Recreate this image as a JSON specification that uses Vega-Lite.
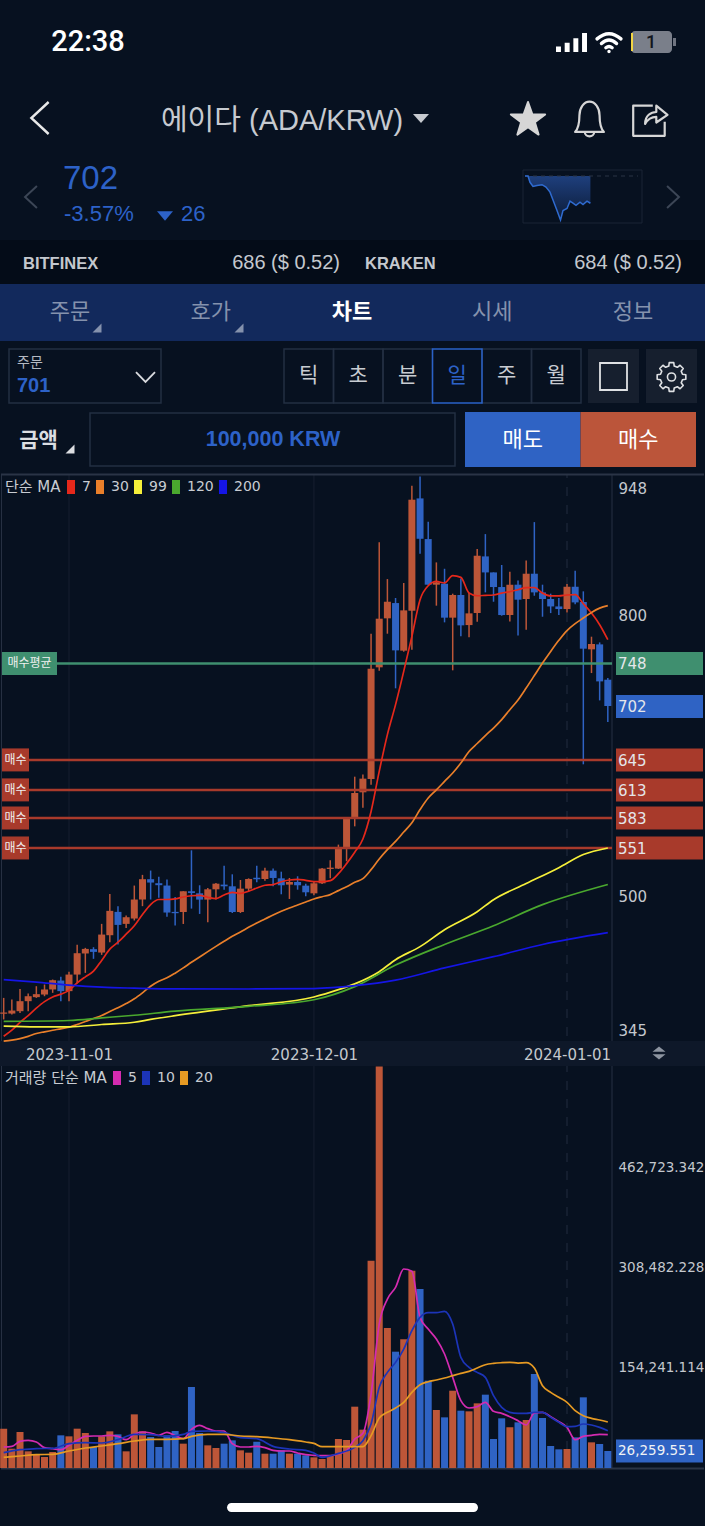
{
"$schema":"https://vega.github.io/schema/vega-lite/v6.json",
"description":"ADA/KRW daily candlestick chart in a mobile exchange app",
"width":705,"height":1526,
"autosize":{"type":"fit","contains":"padding"},
"padding":0,
"background":"#071120",
"config":{"view":{"stroke":null},"style":{"guide-label":{"font":"DejaVu Sans"}}},
"datasets":{
"candles":[
{"date":"2023-10-24","open":374,"high":391,"low":368,"close":375.4,"volume":60650,"side":"up"},
{"date":"2023-10-25","open":374.3,"high":389.3,"low":373.3,"close":377.5,"volume":29800,"side":"up"},
{"date":"2023-10-26","open":376.8,"high":400.6,"low":375,"close":387.5,"volume":55500,"side":"up"},
{"date":"2023-10-27","open":387.5,"high":395.7,"low":376.8,"close":392.8,"volume":25700,"side":"up"},
{"date":"2023-10-28","open":391.8,"high":403.5,"low":391,"close":395,"volume":20560,"side":"up"},
{"date":"2023-10-29","open":394.6,"high":405.3,"low":392.8,"close":400,"volume":16960,"side":"up"},
{"date":"2023-10-30","open":400,"high":410.6,"low":396.4,"close":409.9,"volume":24670,"side":"up"},
{"date":"2023-10-31","open":409.5,"high":413.5,"low":387.5,"close":398.2,"volume":50370,"side":"down"},
{"date":"2023-11-01","open":398.2,"high":418.8,"low":387.5,"close":415.9,"volume":48830,"side":"up"},
{"date":"2023-11-02","open":415.9,"high":447.6,"low":406.3,"close":438.7,"volume":60650,"side":"up"},
{"date":"2023-11-03","open":438.4,"high":444.4,"low":417.7,"close":443.3,"volume":53970,"side":"up"},
{"date":"2023-11-04","open":443,"high":445.1,"low":432.7,"close":440.1,"volume":32380,"side":"down"},
{"date":"2023-11-05","open":439.4,"high":470,"low":436.9,"close":458.6,"volume":48830,"side":"up"},
{"date":"2023-11-06","open":457.9,"high":502,"low":450.4,"close":483.9,"volume":56540,"side":"up"},
{"date":"2023-11-07","open":482.8,"high":488.9,"low":448,"close":468.9,"volume":51910,"side":"down"},
{"date":"2023-11-08","open":470,"high":478.9,"low":465.7,"close":477.1,"volume":25700,"side":"up"},
{"date":"2023-11-09","open":475.7,"high":510.9,"low":473.6,"close":496,"volume":82750,"side":"up"},
{"date":"2023-11-10","open":496,"high":522.3,"low":488.9,"close":517.7,"volume":56540,"side":"up"},
{"date":"2023-11-11","open":517.7,"high":526.9,"low":496,"close":514.1,"volume":47800,"side":"down"},
{"date":"2023-11-12","open":513.4,"high":520.2,"low":497.8,"close":511.3,"volume":32380,"side":"down"},
{"date":"2023-11-13","open":510.9,"high":517.3,"low":477.5,"close":482.1,"volume":50370,"side":"down"},
{"date":"2023-11-14","open":482.8,"high":498.8,"low":468.2,"close":481.4,"volume":57050,"side":"down"},
{"date":"2023-11-15","open":482.7,"high":504.8,"low":469.9,"close":504.8,"volume":37520,"side":"up"},
{"date":"2023-11-16","open":504.8,"high":548.5,"low":486.3,"close":503,"volume":124900,"side":"down"},
{"date":"2023-11-17","open":502.6,"high":511.2,"low":480.6,"close":495.9,"volume":53970,"side":"down"},
{"date":"2023-11-18","open":495.9,"high":508.3,"low":471.7,"close":506.9,"volume":34950,"side":"up"},
{"date":"2023-11-19","open":506.9,"high":513.6,"low":495.9,"close":512.9,"volume":30840,"side":"up"},
{"date":"2023-11-20","open":511.9,"high":532.1,"low":506.5,"close":510.1,"volume":37520,"side":"down"},
{"date":"2023-11-21","open":510.1,"high":522.9,"low":481.6,"close":482.7,"volume":42660,"side":"down"},
{"date":"2023-11-22","open":482.7,"high":516.8,"low":481.6,"close":507.6,"volume":27240,"side":"up"},
{"date":"2023-11-23","open":507.6,"high":518.6,"low":504.4,"close":517.9,"volume":23640,"side":"up"},
{"date":"2023-11-24","open":519.3,"high":532.1,"low":514.4,"close":517.6,"volume":40600,"side":"down"},
{"date":"2023-11-25","open":517.9,"high":530,"low":516.1,"close":526.8,"volume":22100,"side":"up"},
{"date":"2023-11-26","open":526.8,"high":529,"low":510.1,"close":519,"volume":22100,"side":"down"},
{"date":"2023-11-27","open":518.6,"high":525.7,"low":501.6,"close":511.2,"volume":27240,"side":"down"},
{"date":"2023-11-28","open":511.9,"high":519,"low":496.6,"close":514.7,"volume":22100,"side":"up"},
{"date":"2023-11-29","open":514.7,"high":520.8,"low":506.5,"close":511.2,"volume":22100,"side":"down"},
{"date":"2023-11-30","open":510.8,"high":512.9,"low":499.4,"close":503.7,"volume":19530,"side":"down"},
{"date":"2023-12-01","open":502.6,"high":515.4,"low":500.5,"close":513.3,"volume":16450,"side":"up"},
{"date":"2023-12-02","open":513.3,"high":529.7,"low":512.6,"close":529,"volume":13880,"side":"up"},
{"date":"2023-12-03","open":528.6,"high":537.8,"low":518.6,"close":530,"volume":19020,"side":"up"},
{"date":"2023-12-04","open":529,"high":554.6,"low":528.6,"close":551,"volume":44720,"side":"up"},
{"date":"2023-12-05","open":551,"high":582.3,"low":536.8,"close":582,"volume":43180,"side":"up"},
{"date":"2023-12-06","open":582,"high":627.1,"low":574.1,"close":609.7,"volume":94580,"side":"up"},
{"date":"2023-12-07","open":610.4,"high":629.3,"low":594,"close":625,"volume":59110,"side":"up"},
{"date":"2023-12-08","open":624.6,"high":779.7,"low":618.6,"close":742.3,"volume":319700,"side":"up"},
{"date":"2023-12-09","open":743.8,"high":877.2,"low":740.2,"close":795.7,"volume":619400,"side":"up"},
{"date":"2023-12-10","open":796.1,"high":838,"low":779.7,"close":813.8,"volume":215900,"side":"up"},
{"date":"2023-12-11","open":812.4,"high":817.8,"low":721.4,"close":761.9,"volume":179400,"side":"down"},
{"date":"2023-12-12","open":761.6,"high":833.8,"low":760.5,"close":804.6,"volume":198400,"side":"up"},
{"date":"2023-12-13","open":804.2,"high":937.6,"low":762.6,"close":922.7,"volume":304300,"side":"up"},
{"date":"2023-12-14","open":924.1,"high":947.5,"low":865.1,"close":881,"volume":276000,"side":"down"},
{"date":"2023-12-15","open":880.7,"high":899.2,"low":832,"close":832,"volume":134700,"side":"down"},
{"date":"2023-12-16","open":832,"high":855.8,"low":809.6,"close":834.5,"volume":89440,"side":"up"},
{"date":"2023-12-17","open":833,"high":849,"low":791.8,"close":796.8,"volume":78130,"side":"down"},
{"date":"2023-12-18","open":796.8,"high":822.4,"low":740.6,"close":821,"volume":119200,"side":"up"},
{"date":"2023-12-19","open":821,"high":838.7,"low":776.9,"close":788.6,"volume":88410,"side":"down"},
{"date":"2023-12-20","open":788.9,"high":823.1,"low":775.8,"close":801.4,"volume":87380,"side":"up"},
{"date":"2023-12-21","open":801.8,"high":870,"low":792.5,"close":862.9,"volume":99720,"side":"up"},
{"date":"2023-12-22","open":862.2,"high":886,"low":823.8,"close":845.1,"volume":113100,"side":"down"},
{"date":"2023-12-23","open":845.1,"high":845.1,"low":813.8,"close":829.5,"volume":44720,"side":"down"},
{"date":"2023-12-24","open":829.5,"high":853,"low":798.9,"close":799.6,"volume":76590,"side":"down"},
{"date":"2023-12-25","open":799.6,"high":845.8,"low":792.8,"close":832,"volume":62710,"side":"up"},
{"date":"2023-12-26","open":832,"high":836.6,"low":777.9,"close":816,"volume":70420,"side":"down"},
{"date":"2023-12-27","open":816.7,"high":857.9,"low":784,"close":843.7,"volume":74020,"side":"up"},
{"date":"2023-12-28","open":843.7,"high":898.8,"low":820.2,"close":823.8,"volume":145000,"side":"down"},
{"date":"2023-12-29","open":823.8,"high":832,"low":797.8,"close":816.7,"volume":77100,"side":"down"},
{"date":"2023-12-30","open":816.7,"high":822.4,"low":801.7,"close":808.8,"volume":33920,"side":"down"},
{"date":"2023-12-31","open":808.8,"high":817.7,"low":799.6,"close":806,"volume":28780,"side":"down"},
{"date":"2024-01-01","open":806,"high":832.7,"low":802.4,"close":829.8,"volume":29300,"side":"up"},
{"date":"2024-01-02","open":829.8,"high":846.9,"low":811,"close":813.1,"volume":47290,"side":"down"},
{"date":"2024-01-03","open":813.5,"high":824.9,"low":640.3,"close":763.7,"volume":109000,"side":"down"},
{"date":"2024-01-04","open":763,"high":776.5,"low":737.7,"close":768.7,"volume":39580,"side":"up"},
{"date":"2024-01-05","open":768.3,"high":770.4,"low":708.5,"close":728.8,"volume":37010,"side":"down"},
{"date":"2024-01-06","open":730.6,"high":732.4,"low":685.4,"close":702.5,"volume":26259.551,"side":"down"}
],
"priceMa":[
{"date":"2023-10-24","ma":"7","value":350},{"date":"2023-10-25","ma":"7","value":356.5},{"date":"2023-10-26","ma":"7","value":365},{"date":"2023-10-27","ma":"7","value":372},{"date":"2023-10-28","ma":"7","value":380},{"date":"2023-10-29","ma":"7","value":387},{"date":"2023-10-30","ma":"7","value":392},{"date":"2023-10-31","ma":"7","value":395},{"date":"2023-11-01","ma":"7","value":399},{"date":"2023-11-02","ma":"7","value":407},{"date":"2023-11-03","ma":"7","value":413.5},{"date":"2023-11-04","ma":"7","value":419.5},{"date":"2023-11-05","ma":"7","value":431},{"date":"2023-11-06","ma":"7","value":443},{"date":"2023-11-07","ma":"7","value":450.4},{"date":"2023-11-08","ma":"7","value":459},{"date":"2023-11-09","ma":"7","value":468},{"date":"2023-11-10","ma":"7","value":480},{"date":"2023-11-11","ma":"7","value":490.6},{"date":"2023-11-12","ma":"7","value":496},{"date":"2023-11-13","ma":"7","value":496},{"date":"2023-11-14","ma":"7","value":496.7},{"date":"2023-11-15","ma":"7","value":498.7},{"date":"2023-11-16","ma":"7","value":500},{"date":"2023-11-17","ma":"7","value":500.5},{"date":"2023-11-18","ma":"7","value":498.4},{"date":"2023-11-19","ma":"7","value":497},{"date":"2023-11-20","ma":"7","value":500.8},{"date":"2023-11-21","ma":"7","value":503.7},{"date":"2023-11-22","ma":"7","value":502.6},{"date":"2023-11-23","ma":"7","value":504.8},{"date":"2023-11-24","ma":"7","value":508.3},{"date":"2023-11-25","ma":"7","value":511.2},{"date":"2023-11-26","ma":"7","value":511.9},{"date":"2023-11-27","ma":"7","value":515},{"date":"2023-11-28","ma":"7","value":516.8},{"date":"2023-11-29","ma":"7","value":517.6},{"date":"2023-11-30","ma":"7","value":516.5},{"date":"2023-12-01","ma":"7","value":515},{"date":"2023-12-02","ma":"7","value":515},{"date":"2023-12-03","ma":"7","value":516.1},{"date":"2023-12-04","ma":"7","value":523.6},{"date":"2023-12-05","ma":"7","value":534.3},{"date":"2023-12-06","ma":"7","value":546.4},{"date":"2023-12-07","ma":"7","value":560.6},{"date":"2023-12-08","ma":"7","value":590},{"date":"2023-12-09","ma":"7","value":632.8},{"date":"2023-12-10","ma":"7","value":672},{"date":"2023-12-11","ma":"7","value":704},{"date":"2023-12-12","ma":"7","value":739.5},{"date":"2023-12-13","ma":"7","value":776.9},{"date":"2023-12-14","ma":"7","value":816},{"date":"2023-12-15","ma":"7","value":830.9},{"date":"2023-12-16","ma":"7","value":835.5},{"date":"2023-12-17","ma":"7","value":833.8},{"date":"2023-12-18","ma":"7","value":841.6},{"date":"2023-12-19","ma":"7","value":839.8},{"date":"2023-12-20","ma":"7","value":823.1},{"date":"2023-12-21","ma":"7","value":820.2},{"date":"2023-12-22","ma":"7","value":820.6},{"date":"2023-12-23","ma":"7","value":821},{"date":"2023-12-24","ma":"7","value":823},{"date":"2023-12-25","ma":"7","value":824.5},{"date":"2023-12-26","ma":"7","value":826.6},{"date":"2023-12-27","ma":"7","value":828.8},{"date":"2023-12-28","ma":"7","value":829},{"date":"2023-12-29","ma":"7","value":823},{"date":"2023-12-30","ma":"7","value":820},{"date":"2023-12-31","ma":"7","value":820},{"date":"2024-01-01","ma":"7","value":821},{"date":"2024-01-02","ma":"7","value":821.3},{"date":"2024-01-03","ma":"7","value":811.7},{"date":"2024-01-04","ma":"7","value":801.7},{"date":"2024-01-05","ma":"7","value":789.3},{"date":"2024-01-06","ma":"7","value":773.3},
{"date":"2023-10-24","ma":"30","value":344.8},{"date":"2023-10-25","ma":"30","value":346},{"date":"2023-10-26","ma":"30","value":347.6},{"date":"2023-10-27","ma":"30","value":350},{"date":"2023-10-28","ma":"30","value":353},{"date":"2023-10-29","ma":"30","value":354.8},{"date":"2023-10-30","ma":"30","value":356.5},{"date":"2023-10-31","ma":"30","value":358},{"date":"2023-11-01","ma":"30","value":359.7},{"date":"2023-11-02","ma":"30","value":362.6},{"date":"2023-11-03","ma":"30","value":365.8},{"date":"2023-11-04","ma":"30","value":369},{"date":"2023-11-05","ma":"30","value":372.2},{"date":"2023-11-06","ma":"30","value":376.5},{"date":"2023-11-07","ma":"30","value":380.4},{"date":"2023-11-08","ma":"30","value":385},{"date":"2023-11-09","ma":"30","value":390},{"date":"2023-11-10","ma":"30","value":396.4},{"date":"2023-11-11","ma":"30","value":403.5},{"date":"2023-11-12","ma":"30","value":408.8},{"date":"2023-11-13","ma":"30","value":412.4},{"date":"2023-11-14","ma":"30","value":417.4},{"date":"2023-11-15","ma":"30","value":423},{"date":"2023-11-16","ma":"30","value":429},{"date":"2023-11-17","ma":"30","value":434.7},{"date":"2023-11-18","ma":"30","value":440.4},{"date":"2023-11-19","ma":"30","value":446},{"date":"2023-11-20","ma":"30","value":451.4},{"date":"2023-11-21","ma":"30","value":456.7},{"date":"2023-11-22","ma":"30","value":461.4},{"date":"2023-11-23","ma":"30","value":466.3},{"date":"2023-11-24","ma":"30","value":471},{"date":"2023-11-25","ma":"30","value":475.2},{"date":"2023-11-26","ma":"30","value":479.5},{"date":"2023-11-27","ma":"30","value":483.4},{"date":"2023-11-28","ma":"30","value":487},{"date":"2023-11-29","ma":"30","value":490.2},{"date":"2023-11-30","ma":"30","value":493.4},{"date":"2023-12-01","ma":"30","value":496.6},{"date":"2023-12-02","ma":"30","value":499},{"date":"2023-12-03","ma":"30","value":501.2},{"date":"2023-12-04","ma":"30","value":505.5},{"date":"2023-12-05","ma":"30","value":509.7},{"date":"2023-12-06","ma":"30","value":514.4},{"date":"2023-12-07","ma":"30","value":518.3},{"date":"2023-12-08","ma":"30","value":527.9},{"date":"2023-12-09","ma":"30","value":539.3},{"date":"2023-12-10","ma":"30","value":549.2},{"date":"2023-12-11","ma":"30","value":558},{"date":"2023-12-12","ma":"30","value":568},{"date":"2023-12-13","ma":"30","value":578},{"date":"2023-12-14","ma":"30","value":592},{"date":"2023-12-15","ma":"30","value":604.3},{"date":"2023-12-16","ma":"30","value":613},{"date":"2023-12-17","ma":"30","value":622},{"date":"2023-12-18","ma":"30","value":631},{"date":"2023-12-19","ma":"30","value":641.7},{"date":"2023-12-20","ma":"30","value":654},{"date":"2023-12-21","ma":"30","value":662.5},{"date":"2023-12-22","ma":"30","value":671},{"date":"2023-12-23","ma":"30","value":679},{"date":"2023-12-24","ma":"30","value":688},{"date":"2023-12-25","ma":"30","value":698.6},{"date":"2023-12-26","ma":"30","value":709},{"date":"2023-12-27","ma":"30","value":721.7},{"date":"2023-12-28","ma":"30","value":735},{"date":"2023-12-29","ma":"30","value":748.4},{"date":"2023-12-30","ma":"30","value":760.8},{"date":"2023-12-31","ma":"30","value":772.6},{"date":"2024-01-01","ma":"30","value":783},{"date":"2024-01-02","ma":"30","value":790.4},{"date":"2024-01-03","ma":"30","value":796.4},{"date":"2024-01-04","ma":"30","value":802.4},{"date":"2024-01-05","ma":"30","value":807},{"date":"2024-01-06","ma":"30","value":809.6},
{"date":"2023-10-24","ma":"99","value":360.8},{"date":"2023-10-28","ma":"99","value":360},{"date":"2023-11-01","ma":"99","value":360},{"date":"2023-11-05","ma":"99","value":362.6},{"date":"2023-11-09","ma":"99","value":365},{"date":"2023-11-11","ma":"99","value":368},{"date":"2023-11-14","ma":"99","value":372},{"date":"2023-11-23","ma":"99","value":382.7},{"date":"2023-12-01","ma":"99","value":392},{"date":"2023-12-04","ma":"99","value":399.8},{"date":"2023-12-06","ma":"99","value":406},{"date":"2023-12-09","ma":"99","value":419},{"date":"2023-12-11","ma":"99","value":431.8},{"date":"2023-12-14","ma":"99","value":445.7},{"date":"2023-12-17","ma":"99","value":463.8},{"date":"2023-12-21","ma":"99","value":483},{"date":"2023-12-23","ma":"99","value":495.8},{"date":"2023-12-27","ma":"99","value":513},{"date":"2023-12-31","ma":"99","value":530},{"date":"2024-01-03","ma":"99","value":544},{"date":"2024-01-06","ma":"99","value":551},
{"date":"2023-10-24","ma":"120","value":366},{"date":"2023-11-01","ma":"120","value":366.9},{"date":"2023-11-05","ma":"120","value":369.7},{"date":"2023-11-09","ma":"120","value":372.5},{"date":"2023-11-14","ma":"120","value":376.8},{"date":"2023-11-23","ma":"120","value":382},{"date":"2023-12-01","ma":"120","value":389},{"date":"2023-12-06","ma":"120","value":403},{"date":"2023-12-11","ma":"120","value":426},{"date":"2023-12-17","ma":"120","value":448},{"date":"2023-12-23","ma":"120","value":468},{"date":"2023-12-29","ma":"120","value":490.5},{"date":"2024-01-06","ma":"120","value":512},
{"date":"2023-10-24","ma":"200","value":410.6},{"date":"2023-10-28","ma":"200","value":407.8},{"date":"2023-11-01","ma":"200","value":404.6},{"date":"2023-11-05","ma":"200","value":402.4},{"date":"2023-11-09","ma":"200","value":401.4},{"date":"2023-11-14","ma":"200","value":400.6},{"date":"2023-11-23","ma":"200","value":400.5},{"date":"2023-12-01","ma":"200","value":401},{"date":"2023-12-06","ma":"200","value":404},{"date":"2023-12-11","ma":"200","value":410},{"date":"2023-12-17","ma":"200","value":423},{"date":"2023-12-23","ma":"200","value":435},{"date":"2023-12-29","ma":"200","value":448},{"date":"2024-01-06","ma":"200","value":460.6}
],
"volumeMa":[
{"date":"2023-10-24","ma":"5","value":32380},{"date":"2023-10-25","ma":"5","value":33410},{"date":"2023-10-26","ma":"5","value":41120},{"date":"2023-10-27","ma":"5","value":42660},{"date":"2023-10-28","ma":"5","value":40090},{"date":"2023-10-29","ma":"5","value":31350},{"date":"2023-10-30","ma":"5","value":29810},{"date":"2023-10-31","ma":"5","value":28270},{"date":"2023-11-01","ma":"5","value":34950},{"date":"2023-11-02","ma":"5","value":42660},{"date":"2023-11-03","ma":"5","value":48830},{"date":"2023-11-04","ma":"5","value":49340},{"date":"2023-11-05","ma":"5","value":49340},{"date":"2023-11-06","ma":"5","value":50370},{"date":"2023-11-07","ma":"5","value":48830},{"date":"2023-11-08","ma":"5","value":43690},{"date":"2023-11-09","ma":"5","value":51910},{"date":"2023-11-10","ma":"5","value":55510},{"date":"2023-11-11","ma":"5","value":53970},{"date":"2023-11-12","ma":"5","value":50370},{"date":"2023-11-13","ma":"5","value":55000},{"date":"2023-11-14","ma":"5","value":49860},{"date":"2023-11-15","ma":"5","value":45230},{"date":"2023-11-16","ma":"5","value":59620},{"date":"2023-11-17","ma":"5","value":65790},{"date":"2023-11-18","ma":"5","value":60650},{"date":"2023-11-19","ma":"5","value":57050},{"date":"2023-11-20","ma":"5","value":57050},{"date":"2023-11-21","ma":"5","value":37520},{"date":"2023-11-22","ma":"5","value":32380},{"date":"2023-11-23","ma":"5","value":32380},{"date":"2023-11-24","ma":"5","value":33410},{"date":"2023-11-25","ma":"5","value":31350},{"date":"2023-11-26","ma":"5","value":27240},{"date":"2023-11-27","ma":"5","value":26210},{"date":"2023-11-28","ma":"5","value":26210},{"date":"2023-11-29","ma":"5","value":23130},{"date":"2023-11-30","ma":"5","value":20560},{"date":"2023-12-01","ma":"5","value":19530},{"date":"2023-12-02","ma":"5","value":19020},{"date":"2023-12-03","ma":"5","value":19020},{"date":"2023-12-04","ma":"5","value":21590},{"date":"2023-12-05","ma":"5","value":26730},{"date":"2023-12-06","ma":"5","value":44720},{"date":"2023-12-07","ma":"5","value":53460},{"date":"2023-12-08","ma":"5","value":114100},{"date":"2023-12-09","ma":"5","value":222000},{"date":"2023-12-10","ma":"5","value":260600},{"date":"2023-12-11","ma":"5","value":278600},{"date":"2023-12-12","ma":"5","value":306900},{"date":"2023-12-13","ma":"5","value":303300},{"date":"2023-12-14","ma":"5","value":232300},{"date":"2023-12-15","ma":"5","value":214300},{"date":"2023-12-16","ma":"5","value":198900},{"date":"2023-12-17","ma":"5","value":175800},{"date":"2023-12-18","ma":"5","value":139800},{"date":"2023-12-19","ma":"5","value":103800},{"date":"2023-12-20","ma":"5","value":92520},{"date":"2023-12-21","ma":"5","value":94580},{"date":"2023-12-22","ma":"5","value":101300},{"date":"2023-12-23","ma":"5","value":87380},{"date":"2023-12-24","ma":"5","value":84300},{"date":"2023-12-25","ma":"5","value":79160},{"date":"2023-12-26","ma":"5","value":72990},{"date":"2023-12-27","ma":"5","value":66310},{"date":"2023-12-28","ma":"5","value":84810},{"date":"2023-12-29","ma":"5","value":85840},{"date":"2023-12-30","ma":"5","value":79160},{"date":"2023-12-31","ma":"5","value":71450},{"date":"2024-01-01","ma":"5","value":62710},{"date":"2024-01-02","ma":"5","value":43690},{"date":"2024-01-03","ma":"5","value":48830},{"date":"2024-01-04","ma":"5","value":50370},{"date":"2024-01-05","ma":"5","value":51910},{"date":"2024-01-06","ma":"5","value":51400},
{"date":"2023-10-24","ma":"10","value":23640},{"date":"2023-10-26","ma":"10","value":28270},{"date":"2023-10-28","ma":"10","value":29810},{"date":"2023-10-30","ma":"10","value":30330},{"date":"2023-11-01","ma":"10","value":37520},{"date":"2023-11-03","ma":"10","value":39060},{"date":"2023-11-05","ma":"10","value":38550},{"date":"2023-11-07","ma":"10","value":43690},{"date":"2023-11-09","ma":"10","value":51910},{"date":"2023-11-11","ma":"10","value":51400},{"date":"2023-11-13","ma":"10","value":48830},{"date":"2023-11-15","ma":"10","value":51910},{"date":"2023-11-16","ma":"10","value":56540},{"date":"2023-11-18","ma":"10","value":57050},{"date":"2023-11-20","ma":"10","value":54480},{"date":"2023-11-22","ma":"10","value":46770},{"date":"2023-11-24","ma":"10","value":45230},{"date":"2023-11-26","ma":"10","value":33410},{"date":"2023-11-28","ma":"10","value":29300},{"date":"2023-11-30","ma":"10","value":27240},{"date":"2023-12-01","ma":"10","value":23130},{"date":"2023-12-02","ma":"10","value":16450},{"date":"2023-12-04","ma":"10","value":22620},{"date":"2023-12-06","ma":"10","value":31870},{"date":"2023-12-07","ma":"10","value":42150},{"date":"2023-12-08","ma":"10","value":67850},{"date":"2023-12-09","ma":"10","value":124400},{"date":"2023-12-10","ma":"10","value":147500},{"date":"2023-12-11","ma":"10","value":162900},{"date":"2023-12-12","ma":"10","value":183500},{"date":"2023-12-13","ma":"10","value":211800},{"date":"2023-12-14","ma":"10","value":232300},{"date":"2023-12-15","ma":"10","value":239500},{"date":"2023-12-16","ma":"10","value":239500},{"date":"2023-12-17","ma":"10","value":241600},{"date":"2023-12-18","ma":"10","value":222000},{"date":"2023-12-19","ma":"10","value":170600},{"date":"2023-12-20","ma":"10","value":155200},{"date":"2023-12-21","ma":"10","value":147500},{"date":"2023-12-22","ma":"10","value":139800},{"date":"2023-12-23","ma":"10","value":111500},{"date":"2023-12-24","ma":"10","value":93550},{"date":"2023-12-25","ma":"10","value":85840},{"date":"2023-12-26","ma":"10","value":84300},{"date":"2023-12-27","ma":"10","value":84300},{"date":"2023-12-28","ma":"10","value":85840},{"date":"2023-12-29","ma":"10","value":85840},{"date":"2023-12-30","ma":"10","value":78130},{"date":"2023-12-31","ma":"10","value":70420},{"date":"2024-01-01","ma":"10","value":63740},{"date":"2024-01-02","ma":"10","value":64250},{"date":"2024-01-03","ma":"10","value":67850},{"date":"2024-01-04","ma":"10","value":66310},{"date":"2024-01-05","ma":"10","value":62710},{"date":"2024-01-06","ma":"10","value":57570},
{"date":"2023-10-24","ma":"20","value":16450},{"date":"2023-10-26","ma":"20","value":18500},{"date":"2023-10-28","ma":"20","value":20560},{"date":"2023-10-30","ma":"20","value":21070},{"date":"2023-11-01","ma":"20","value":26210},{"date":"2023-11-03","ma":"20","value":30840},{"date":"2023-11-05","ma":"20","value":33920},{"date":"2023-11-07","ma":"20","value":37520},{"date":"2023-11-09","ma":"20","value":41630},{"date":"2023-11-11","ma":"20","value":44200},{"date":"2023-11-13","ma":"20","value":44200},{"date":"2023-11-15","ma":"20","value":45230},{"date":"2023-11-16","ma":"20","value":48830},{"date":"2023-11-18","ma":"20","value":51910},{"date":"2023-11-20","ma":"20","value":51910},{"date":"2023-11-22","ma":"20","value":49340},{"date":"2023-11-24","ma":"20","value":48320},{"date":"2023-11-26","ma":"20","value":46260},{"date":"2023-11-28","ma":"20","value":43690},{"date":"2023-11-30","ma":"20","value":40090},{"date":"2023-12-01","ma":"20","value":38040},{"date":"2023-12-02","ma":"20","value":32900},{"date":"2023-12-04","ma":"20","value":32900},{"date":"2023-12-06","ma":"20","value":32900},{"date":"2023-12-07","ma":"20","value":32900},{"date":"2023-12-08","ma":"20","value":49860},{"date":"2023-12-09","ma":"20","value":77100},{"date":"2023-12-10","ma":"20","value":85840},{"date":"2023-12-11","ma":"20","value":92520},{"date":"2023-12-12","ma":"20","value":101300},{"date":"2023-12-13","ma":"20","value":116700},{"date":"2023-12-14","ma":"20","value":128500},{"date":"2023-12-15","ma":"20","value":133100},{"date":"2023-12-16","ma":"20","value":135700},{"date":"2023-12-17","ma":"20","value":138800},{"date":"2023-12-18","ma":"20","value":142400},{"date":"2023-12-19","ma":"20","value":146000},{"date":"2023-12-20","ma":"20","value":149100},{"date":"2023-12-21","ma":"20","value":154200},{"date":"2023-12-22","ma":"20","value":159300},{"date":"2023-12-23","ma":"20","value":161400},{"date":"2023-12-24","ma":"20","value":162400},{"date":"2023-12-25","ma":"20","value":162900},{"date":"2023-12-26","ma":"20","value":161900},{"date":"2023-12-27","ma":"20","value":162400},{"date":"2023-12-28","ma":"20","value":154200},{"date":"2023-12-29","ma":"20","value":127000},{"date":"2023-12-30","ma":"20","value":116700},{"date":"2023-12-31","ma":"20","value":109000},{"date":"2024-01-01","ma":"20","value":101300},{"date":"2024-01-02","ma":"20","value":88410},{"date":"2024-01-03","ma":"20","value":80700},{"date":"2024-01-04","ma":"20","value":76590},{"date":"2024-01-05","ma":"20","value":74020},{"date":"2024-01-06","ma":"20","value":70930}
],
"spark":[
{"minute":0,"price":728},{"minute":3,"price":728},{"minute":5,"price":722},{"minute":8,"price":718},{"minute":12,"price":719},{"minute":17,"price":719.7},{"minute":21,"price":717.4},{"minute":25,"price":712.6},{"minute":28,"price":705},{"minute":32,"price":695},{"minute":35.5,"price":686},{"minute":38,"price":695},{"minute":42,"price":697},{"minute":45,"price":704},{"minute":48,"price":702},{"minute":51,"price":700},{"minute":55,"price":703},{"minute":58,"price":700.8},{"minute":62,"price":704},{"minute":65.4,"price":702}
],
"levels":[
{"level":748,"label":"748","kind":"avg"},{"level":702,"label":"702","kind":"now"},{"level":645,"label":"645","kind":"buy"},{"level":613,"label":"613","kind":"buy"},{"level":583,"label":"583","kind":"buy"},{"level":551,"label":"551","kind":"buy"}
]
},
"resolve":{"scale":{"x":"independent","y":"independent","color":"independent"},"axis":{"x":"independent","y":"independent"},"legend":{"color":"independent"}},
"layer":[
{"data":{"values":[{"part":"exchanges"}]},"mark":{"type":"rect","color":"#040c18"},"encoding":{"x":{"field":"part","type":"nominal","axis":null,"scale":{"type":"band","domain":["exchanges"],"range":[0,705],"padding":0}},"y":{"field":"part","type":"nominal","axis":null,"scale":{"type":"band","domain":["exchanges"],"range":[240,284],"padding":0}}}},
{"data":{"values":[{"part":"tabs"}]},"mark":{"type":"rect","color":"#12295c"},"encoding":{"x":{"field":"part","type":"nominal","axis":null,"scale":{"type":"band","domain":["tabs"],"range":[0,705],"padding":0}},"y":{"field":"part","type":"nominal","axis":null,"scale":{"type":"band","domain":["tabs"],"range":[284,341],"padding":0}}}},

{"data":{"values":[{"t":"22:38"}]},"mark":{"type":"text","font":"Roboto","fontWeight":500,"fontSize":29,"color":"#ffffff"},"encoding":{"text":{"field":"t"},"x":{"field":"t","type":"nominal","axis":null,"scale":{"type":"point","domain":["22:38"],"range":[88,88]}},"y":{"datum":"status","type":"nominal","axis":null,"scale":{"type":"point","domain":["status"],"range":[42,42]}}}},
{"data":{"values":[{"icon":"signal"}]},"mark":{"type":"point","shape":"M-.5,.31H-.34V.13H-.5Z M-.22,.31H-.06V.01H-.22Z M.06,.31H.22V-.14H.06Z M.34,.31H.5V-.31H.34Z","size":3844,"filled":true,"opacity":1,"color":"#ffffff"},"encoding":{"x":{"field":"icon","type":"nominal","axis":null,"scale":{"type":"point","domain":["signal"],"range":[571.5,571.5]}},"y":{"datum":"status","type":"nominal","axis":null,"scale":{"type":"point","domain":["status"],"range":[42.5,42.5]}}}},
{"data":{"values":[{"icon":"wifi"}]},"mark":{"type":"point","shape":"M-.46,-.12 Q0,-.52 .46,-.12 M-.29,.06 Q0,-.22 .29,.06 M-.12,.22 Q0,.12 .12,.22 M0,.36 L0,.37","size":2704,"filled":false,"opacity":1,"stroke":"#ffffff","strokeWidth":3.4,"strokeCap":"round"},"encoding":{"x":{"field":"icon","type":"nominal","axis":null,"scale":{"type":"point","domain":["wifi"],"range":[609,609]}},"y":{"datum":"status","type":"nominal","axis":null,"scale":{"type":"point","domain":["status"],"range":[42,42]}}}},
{"data":{"values":[{"part":"battery"}]},"mark":{"type":"rect","color":"#7a7f8a","cornerRadius":4},"encoding":{"x":{"field":"part","type":"nominal","axis":null,"scale":{"type":"band","domain":["battery"],"range":[631,672],"padding":0}},"y":{"field":"part","type":"nominal","axis":null,"scale":{"type":"band","domain":["battery"],"range":[31,53],"padding":0}}}},
{"data":{"values":[{"part":"low"}]},"mark":{"type":"rect","color":"#f2d544"},"encoding":{"x":{"field":"part","type":"nominal","axis":null,"scale":{"type":"band","domain":["low"],"range":[631,633],"padding":0}},"y":{"field":"part","type":"nominal","axis":null,"scale":{"type":"band","domain":["low"],"range":[33,51],"padding":0}}}},
{"data":{"values":[{"part":"nub"}]},"mark":{"type":"rect","color":"#6f7480"},"encoding":{"x":{"field":"part","type":"nominal","axis":null,"scale":{"type":"band","domain":["nub"],"range":[673,676],"padding":0}},"y":{"field":"part","type":"nominal","axis":null,"scale":{"type":"band","domain":["nub"],"range":[38,46],"padding":0}}}},
{"data":{"values":[{"t":"1"}]},"mark":{"type":"text","font":"Roboto","fontWeight":500,"fontSize":18,"color":"#11151c"},"encoding":{"text":{"field":"t"},"x":{"field":"t","type":"nominal","axis":null,"scale":{"type":"point","domain":["1"],"range":[651,651]}},"y":{"datum":"status","type":"nominal","axis":null,"scale":{"type":"point","domain":["status"],"range":[42.5,42.5]}}}},

{"data":{"values":[{"icon":"back"}]},"mark":{"type":"point","shape":"M.27,-.5 L-.27,0 L.27,.5","size":4096,"filled":false,"opacity":1,"stroke":"#e8e8e8","strokeWidth":2.4},"encoding":{"x":{"field":"icon","type":"nominal","axis":null,"scale":{"type":"point","domain":["back"],"range":[40,40]}},"y":{"datum":"title","type":"nominal","axis":null,"scale":{"type":"point","domain":["title"],"range":[118,118]}}}},
{"data":{"values":[{"t":"에이다 (ADA/KRW)"}]},"mark":{"type":"text","font":"Liberation Sans, Noto Sans CJK KR","fontSize":29,"color":"#c6cad0"},"encoding":{"text":{"field":"t"},"x":{"field":"t","type":"nominal","axis":null,"scale":{"type":"point","domain":["에이다 (ADA/KRW)"],"range":[282,282]}},"y":{"datum":"title","type":"nominal","axis":null,"scale":{"type":"point","domain":["title"],"range":[121,121]}}}},
{"data":{"values":[{"icon":"caret"}]},"mark":{"type":"point","shape":"M-.5,-.28 L.5,-.28 L0,.28 Z","size":1024,"filled":true,"opacity":1,"color":"#c6cad0"},"encoding":{"x":{"field":"icon","type":"nominal","axis":null,"scale":{"type":"point","domain":["caret"],"range":[421,421]}},"y":{"datum":"title","type":"nominal","axis":null,"scale":{"type":"point","domain":["title"],"range":[118.5,118.5]}}}},
{"data":{"values":[{"icon":"star"}]},"mark":{"type":"point","shape":"M0,-.5 L.118,-.162 L.476,-.155 L.191,.062 L.294,.405 L0,.2 L-.294,.405 L-.191,.062 L-.476,-.155 L-.118,-.162 Z","size":5184,"filled":true,"opacity":1,"color":"#d6d6d6","stroke":"#d6d6d6","strokeWidth":2,"strokeJoin":"round"},"encoding":{"x":{"field":"icon","type":"nominal","axis":null,"scale":{"type":"point","domain":["star"],"range":[528,528]}},"y":{"datum":"title","type":"nominal","axis":null,"scale":{"type":"point","domain":["title"],"range":[120,120]}}}},
{"data":{"values":[{"icon":"bell"}]},"mark":{"type":"point","shape":"M-.4,.36 C-.3,.25 -.28,.12 -.28,-.1 C-.28,-.32 -.15,-.48 0,-.48 C.15,-.48 .28,-.32 .28,-.1 C.28,.12 .3,.25 .4,.36 Z M-.13,.36 C-.13,.52 .13,.52 .13,.36","size":5184,"filled":false,"opacity":1,"stroke":"#d6d6d6","strokeWidth":2.2,"strokeJoin":"round"},"encoding":{"x":{"field":"icon","type":"nominal","axis":null,"scale":{"type":"point","domain":["bell"],"range":[589.5,589.5]}},"y":{"datum":"title","type":"nominal","axis":null,"scale":{"type":"point","domain":["title"],"range":[119,119]}}}},
{"data":{"values":[{"icon":"share"}]},"mark":{"type":"point","shape":"M.08,-.38 L-.48,-.38 L-.48,.48 L.42,.48 L.42,.08 M-.14,.14 C-.14,-.1 .03,-.2 .18,-.2 L.18,-.38 L.5,-.12 L.18,.1 L.18,-.06 C.05,-.06 -.05,-.02 -.14,.14 Z","size":4900,"filled":false,"opacity":1,"stroke":"#d6d6d6","strokeWidth":2.2,"strokeJoin":"round"},"encoding":{"x":{"field":"icon","type":"nominal","axis":null,"scale":{"type":"point","domain":["share"],"range":[650,650]}},"y":{"datum":"title","type":"nominal","axis":null,"scale":{"type":"point","domain":["title"],"range":[119,119]}}}},

{"data":{"values":[{"t":"702"}]},"mark":{"type":"text","font":"Liberation Sans","fontSize":33,"align":"left","color":"#2d62c8"},"encoding":{"text":{"field":"t"},"x":{"field":"t","type":"nominal","axis":null,"scale":{"type":"point","domain":["702"],"range":[63,63]}},"y":{"datum":"quote","type":"nominal","axis":null,"scale":{"type":"point","domain":["quote"],"range":[179,179]}}}},
{"data":{"values":[{"t":"-3.57%"},{"t":"26"}]},"mark":{"type":"text","font":"Liberation Sans","fontSize":22,"align":"left","color":"#2d62c8"},"encoding":{"text":{"field":"t"},"x":{"field":"t","type":"nominal","axis":null,"scale":{"type":"point","domain":["-3.57%","26"],"range":[64,181],"padding":0}},"y":{"datum":"change","type":"nominal","axis":null,"scale":{"type":"point","domain":["change"],"range":[214,214]}}}},
{"data":{"values":[{"icon":"fall"}]},"mark":{"type":"point","shape":"M-.5,-.3 L.5,-.3 L0,.3 Z","size":1024,"filled":true,"opacity":1,"color":"#2d62c8"},"encoding":{"x":{"field":"icon","type":"nominal","axis":null,"scale":{"type":"point","domain":["fall"],"range":[165,165]}},"y":{"datum":"change","type":"nominal","axis":null,"scale":{"type":"point","domain":["change"],"range":[216,216]}}}},
{"data":{"values":[{"icon":"prev"},{"icon":"next"}]},"mark":{"type":"point","size":1936,"opacity":1,"filled":false,"stroke":"#3c4656","strokeWidth":2},"encoding":{"shape":{"field":"icon","type":"nominal","legend":null,"scale":{"domain":["prev","next"],"range":["M.27,-.5 L-.27,0 L.27,.5","M-.27,-.5 L.27,0 L-.27,.5"]}},"x":{"field":"icon","type":"nominal","axis":null,"scale":{"type":"point","domain":["prev","next"],"range":[31,673],"padding":0}},"y":{"datum":"quote","type":"nominal","axis":null,"scale":{"type":"point","domain":["quote"],"range":[197,197]}}}},
{"data":{"values":[{"part":"sparkbox"}]},"mark":{"type":"rect","filled":false,"stroke":"#1b2535","strokeWidth":1},"encoding":{"x":{"field":"part","type":"nominal","axis":null,"scale":{"type":"band","domain":["sparkbox"],"range":[523,642],"padding":0}},"y":{"field":"part","type":"nominal","axis":null,"scale":{"type":"band","domain":["sparkbox"],"range":[170,223],"padding":0}}}},
{"data":{"name":"spark"},"mark":{"type":"area","color":{"gradient":"linear","x1":0,"y1":0,"x2":0,"y2":1,"stops":[{"offset":0,"color":"#1e3f7d"},{"offset":1,"color":"#0c1b36"}]}},"encoding":{"x":{"field":"minute","type":"quantitative","axis":null,"scale":{"domain":[0,113],"range":[525,638]}},"y":{"field":"price","type":"quantitative","axis":null,"stack":null,"scale":{"domain":[686,728],"range":[220,176]}},"y2":{"datum":728}}},
{"data":{"values":[{"ref":728}]},"mark":{"type":"rule","stroke":"#2a3444","strokeWidth":1,"strokeDash":[4,4]},"encoding":{"y":{"field":"ref","type":"quantitative","axis":null,"scale":{"domain":[686,728],"range":[220,176]}},"x":{"datum":0,"axis":null,"scale":{"domain":[0,113],"range":[525,638]}},"x2":{"datum":113}}},
{"data":{"name":"spark"},"mark":{"type":"line","color":"#2f6bd0","strokeWidth":1.5},"encoding":{"x":{"field":"minute","type":"quantitative","axis":null,"scale":{"domain":[0,113],"range":[525,638]}},"y":{"field":"price","type":"quantitative","axis":null,"scale":{"domain":[686,728],"range":[220,176]}}}},

{"data":{"values":[{"t":"BITFINEX"},{"t":"KRAKEN"}]},"mark":{"type":"text","font":"Liberation Sans","fontWeight":"bold","fontSize":16.5,"align":"left","color":"#c4c8ce"},"encoding":{"text":{"field":"t"},"x":{"field":"t","type":"nominal","axis":null,"scale":{"type":"point","domain":["BITFINEX","KRAKEN"],"range":[23,365],"padding":0}},"y":{"datum":"exchange","type":"nominal","axis":null,"scale":{"type":"point","domain":["exchange"],"range":[264,264]}}}},
{"data":{"values":[{"t":"686 ($ 0.52)"},{"t":"684 ($ 0.52)"}]},"mark":{"type":"text","font":"Liberation Sans","fontSize":20,"align":"right","color":"#c4c8ce"},"encoding":{"text":{"field":"t"},"x":{"field":"t","type":"nominal","axis":null,"scale":{"type":"point","domain":["686 ($ 0.52)","684 ($ 0.52)"],"range":[340,682],"padding":0}},"y":{"datum":"exchange","type":"nominal","axis":null,"scale":{"type":"point","domain":["exchange"],"range":[263,263]}}}},

{"data":{"values":[{"t":"주문"},{"t":"호가"},{"t":"시세"},{"t":"정보"}]},"mark":{"type":"text","font":"Noto Sans CJK KR","fontSize":22,"color":"#8592ad"},"encoding":{"text":{"field":"t"},"x":{"field":"t","type":"nominal","axis":null,"scale":{"type":"point","domain":["주문","호가","차트","시세","정보"],"range":[70,633],"padding":0}},"y":{"datum":"tabs","type":"nominal","axis":null,"scale":{"type":"point","domain":["tabs"],"range":[312,312]}}}},
{"data":{"values":[{"t":"차트"}]},"mark":{"type":"text","font":"Noto Sans CJK KR","fontWeight":"bold","fontSize":22,"color":"#ffffff"},"encoding":{"text":{"field":"t"},"x":{"field":"t","type":"nominal","axis":null,"scale":{"type":"point","domain":["차트"],"range":[352,352]}},"y":{"datum":"tabs","type":"nominal","axis":null,"scale":{"type":"point","domain":["tabs"],"range":[312,312]}}}},
{"data":{"values":[{"icon":"order"},{"icon":"book"}]},"mark":{"type":"point","shape":"M.5,-.5 L.5,.5 L-.5,.5 Z","size":324,"filled":true,"opacity":1,"color":"#8592ad"},"encoding":{"x":{"field":"icon","type":"nominal","axis":null,"scale":{"type":"point","domain":["order","book"],"range":[97,239],"padding":0}},"y":{"datum":"tabs","type":"nominal","axis":null,"scale":{"type":"point","domain":["tabs"],"range":[328,328]}}}},

{"data":{"values":[{"part":"orderbox"}]},"mark":{"type":"rect","filled":false,"stroke":"#232f42","strokeWidth":1.5},"encoding":{"x":{"field":"part","type":"nominal","axis":null,"scale":{"type":"band","domain":["orderbox"],"range":[9,161],"padding":0}},"y":{"field":"part","type":"nominal","axis":null,"scale":{"type":"band","domain":["orderbox"],"range":[349,403],"padding":0}}}},
{"data":{"values":[{"t":"주문"}]},"mark":{"type":"text","font":"Noto Sans CJK KR","fontSize":14,"align":"left","color":"#b4b9c2"},"encoding":{"text":{"field":"t"},"x":{"field":"t","type":"nominal","axis":null,"scale":{"type":"point","domain":["주문"],"range":[17,17]}},"y":{"datum":"order","type":"nominal","axis":null,"scale":{"type":"point","domain":["order"],"range":[363,363]}}}},
{"data":{"values":[{"t":"701"}]},"mark":{"type":"text","font":"Liberation Sans","fontWeight":"bold","fontSize":20,"align":"left","color":"#2d62c8"},"encoding":{"text":{"field":"t"},"x":{"field":"t","type":"nominal","axis":null,"scale":{"type":"point","domain":["701"],"range":[17,17]}},"y":{"datum":"order","type":"nominal","axis":null,"scale":{"type":"point","domain":["order"],"range":[386,386]}}}},
{"data":{"values":[{"icon":"drop"}]},"mark":{"type":"point","shape":"M-.5,-.26 L0,.26 L.5,-.26","size":1444,"filled":false,"opacity":1,"stroke":"#d8dade","strokeWidth":1.8},"encoding":{"x":{"field":"icon","type":"nominal","axis":null,"scale":{"type":"point","domain":["drop"],"range":[145.5,145.5]}},"y":{"datum":"order","type":"nominal","axis":null,"scale":{"type":"point","domain":["order"],"range":[377,377]}}}},
{"data":{"values":[{"t":"틱"},{"t":"초"},{"t":"분"},{"t":"주"},{"t":"월"},{"t":"일"}]},"mark":{"type":"rect","filled":false,"strokeWidth":1.5},"encoding":{"stroke":{"condition":{"test":"datum.t === '일'","value":"#2a62c8"},"value":"#232f42"},"x":{"field":"t","type":"nominal","axis":null,"scale":{"type":"band","domain":["틱","초","분","일","주","월"],"range":[284,581],"padding":0}},"y":{"datum":"period","type":"nominal","axis":null,"scale":{"type":"band","domain":["period"],"range":[349,403],"padding":0}}}},
{"data":{"values":[{"t":"틱"},{"t":"초"},{"t":"분"},{"t":"일"},{"t":"주"},{"t":"월"}]},"mark":{"type":"text","font":"Noto Sans CJK KR","fontSize":21},"encoding":{"text":{"field":"t"},"color":{"condition":{"test":"datum.t === '일'","value":"#2d62c8"},"value":"#c8ccd2"},"x":{"field":"t","type":"nominal","axis":null,"scale":{"type":"band","domain":["틱","초","분","일","주","월"],"range":[284,581],"padding":0}},"y":{"datum":"period","type":"nominal","axis":null,"scale":{"type":"band","domain":["period"],"range":[349,403],"padding":0}}}},
{"data":{"values":[{"part":"square"},{"part":"gear"}]},"mark":{"type":"rect","color":"#161f2e"},"encoding":{"x":{"field":"part","type":"nominal","axis":null,"scale":{"type":"band","domain":["square","gear"],"range":[588,697],"paddingInner":0.12,"paddingOuter":0}},"y":{"datum":"tools","type":"nominal","axis":null,"scale":{"type":"band","domain":["tools"],"range":[349,403],"padding":0}}}},
{"data":{"values":[{"icon":"square"}]},"mark":{"type":"point","shape":"M-.5,-.5 H.5 V.5 H-.5 Z","size":2916,"filled":false,"opacity":1,"stroke":"#dfe1e4","strokeWidth":1.8},"encoding":{"x":{"field":"icon","type":"nominal","axis":null,"scale":{"type":"point","domain":["square"],"range":[613.5,613.5]}},"y":{"datum":"tools","type":"nominal","axis":null,"scale":{"type":"point","domain":["tools"],"range":[376.5,376.5]}}}},
{"data":{"values":[{"icon":"gear"}]},"mark":{"type":"point","shape":"M.078,-.494 L.094,-.378 L.201,-.334 L.294,-.405 L.405,-.294 L.334,-.201 L.378,-.094 L.494,-.078 L.494,.078 L.378,.094 L.334,.201 L.405,.294 L.294,.405 L.201,.334 L.094,.378 L.078,.494 L-.078,.494 L-.094,.378 L-.201,.334 L-.294,.405 L-.405,.294 L-.334,.201 L-.378,.094 L-.494,.078 L-.494,-.078 L-.378,-.094 L-.334,-.201 L-.405,-.294 L-.294,-.405 L-.201,-.334 L-.094,-.378 L-.078,-.494 Z M.14,0 A.14,.14 0 1 0 -.14,0 A.14,.14 0 1 0 .14,0 Z","size":3364,"filled":false,"opacity":1,"stroke":"#dfe1e4","strokeWidth":1.6,"strokeJoin":"round"},"encoding":{"x":{"field":"icon","type":"nominal","axis":null,"scale":{"type":"point","domain":["gear"],"range":[671.5,671.5]}},"y":{"datum":"tools","type":"nominal","axis":null,"scale":{"type":"point","domain":["tools"],"range":[377,377]}}}},

{"data":{"values":[{"t":"금액"}]},"mark":{"type":"text","font":"Noto Sans CJK KR","fontWeight":"bold","fontSize":21,"color":"#dcdee2"},"encoding":{"text":{"field":"t"},"x":{"field":"t","type":"nominal","axis":null,"scale":{"type":"point","domain":["금액"],"range":[38.5,38.5]}},"y":{"datum":"amount","type":"nominal","axis":null,"scale":{"type":"point","domain":["amount"],"range":[441,441]}}}},
{"data":{"values":[{"icon":"amount"}]},"mark":{"type":"point","shape":"M.5,-.5 L.5,.5 L-.5,.5 Z","size":324,"filled":true,"opacity":1,"color":"#dcdee2"},"encoding":{"x":{"field":"icon","type":"nominal","axis":null,"scale":{"type":"point","domain":["amount"],"range":[70,70]}},"y":{"datum":"amount","type":"nominal","axis":null,"scale":{"type":"point","domain":["amount"],"range":[449,449]}}}},
{"data":{"values":[{"part":"amountbox"}]},"mark":{"type":"rect","filled":false,"stroke":"#232f42","strokeWidth":1.5},"encoding":{"x":{"field":"part","type":"nominal","axis":null,"scale":{"type":"band","domain":["amountbox"],"range":[90,455],"padding":0}},"y":{"field":"part","type":"nominal","axis":null,"scale":{"type":"band","domain":["amountbox"],"range":[413,466],"padding":0}}}},
{"data":{"values":[{"t":"100,000 KRW"}]},"mark":{"type":"text","font":"Liberation Sans","fontWeight":"bold","fontSize":21.5,"color":"#2d62c8"},"encoding":{"text":{"field":"t"},"x":{"field":"t","type":"nominal","axis":null,"scale":{"type":"point","domain":["100,000 KRW"],"range":[273,273]}},"y":{"datum":"amount","type":"nominal","axis":null,"scale":{"type":"point","domain":["amount"],"range":[440,440]}}}},
{"data":{"values":[{"t":"매도","side":"down"},{"t":"매수","side":"up"}]},"mark":{"type":"rect"},"encoding":{"color":{"field":"side","type":"nominal","legend":null,"scale":{"domain":["up","down"],"range":["#bb553a","#2f63c4"]}},"x":{"field":"t","type":"nominal","axis":null,"scale":{"type":"band","domain":["매도","매수"],"range":[465,696],"padding":0}},"y":{"datum":"buttons","type":"nominal","axis":null,"scale":{"type":"band","domain":["buttons"],"range":[412,467],"padding":0}}}},
{"data":{"values":[{"t":"매도"},{"t":"매수"}]},"mark":{"type":"text","font":"Noto Sans CJK KR","fontSize":22,"color":"#ffffff"},"encoding":{"text":{"field":"t"},"x":{"field":"t","type":"nominal","axis":null,"scale":{"type":"band","domain":["매도","매수"],"range":[465,696],"padding":0}},"y":{"datum":"buttons","type":"nominal","axis":null,"scale":{"type":"band","domain":["buttons"],"range":[412,467],"padding":0}}}},

{"data":{"values":[{"date":"2023-11-01"},{"date":"2023-12-01"}]},"mark":{"type":"rule","stroke":"#161f2f","strokeWidth":1},"encoding":{"x":{"field":"date","type":"temporal","axis":null,"scale":{"type":"utc","domain":["2023-11-01","2024-01-01"],"range":[69,567]}},"y":{"datum":0,"axis":null,"scale":{"domain":[0,1],"range":[1468,475]}},"y2":{"datum":1}}},
{"data":{"values":[{"date":"2024-01-01"}]},"mark":{"type":"rule","stroke":"#222d3e","strokeWidth":1,"strokeDash":[9,9]},"encoding":{"x":{"field":"date","type":"temporal","axis":null,"scale":{"type":"utc","domain":["2023-11-01","2024-01-01"],"range":[69,567]}},"y":{"datum":0,"axis":null,"scale":{"domain":[0,1],"range":[1468,475]}},"y2":{"datum":1}}},
{"data":{"values":[{"edge":"left"},{"edge":"right"}]},"mark":{"type":"rule","stroke":"#263042","strokeWidth":1},"encoding":{"x":{"field":"edge","type":"nominal","axis":null,"scale":{"type":"point","domain":["left","right"],"range":[1.5,612],"padding":0}},"y":{"datum":0,"axis":null,"scale":{"domain":[0,1],"range":[1468,475]}},"y2":{"datum":1}}},
{"data":{"values":[{"edge":"top"},{"edge":"bottom"}]},"mark":{"type":"rule","stroke":"#2a3446","strokeWidth":2},"encoding":{"y":{"field":"edge","type":"nominal","axis":null,"scale":{"type":"point","domain":["top","bottom"],"range":[474.5,1468.5],"padding":0}},"x":{"datum":0,"axis":null,"scale":{"domain":[0,1],"range":[1,704]}},"x2":{"datum":1}}},
{"data":{"values":[{"part":"dates"}]},"mark":{"type":"rect","color":"#0e1829"},"encoding":{"x":{"field":"part","type":"nominal","axis":null,"scale":{"type":"band","domain":["dates"],"range":[0,705],"padding":0}},"y":{"field":"part","type":"nominal","axis":null,"scale":{"type":"band","domain":["dates"],"range":[1041,1066],"padding":0}}}},
{"data":{"values":[{"icon":"sort"}]},"mark":{"type":"point","shape":"M-.5,-.1 L0,-.5 L.5,-.1 Z M-.5,.1 L0,.5 L.5,.1 Z","size":676,"filled":true,"opacity":1,"color":"#8d94a0"},"encoding":{"x":{"field":"icon","type":"nominal","axis":null,"scale":{"type":"point","domain":["sort"],"range":[659,659]}},"y":{"datum":"dates","type":"nominal","axis":null,"scale":{"type":"point","domain":["dates"],"range":[1053,1053]}}}},

{"data":{"name":"candles"},"mark":{"type":"rule","strokeWidth":1.5},"encoding":{
"x":{"field":"date","type":"temporal","scale":{"type":"utc","domain":["2023-11-01","2024-01-01"],"range":[69,567]},"axis":{"orient":"bottom","offset":-479,"values":["2023-11-01","2023-12-01","2024-01-01"],"format":"%Y-%m-%d","title":null,"grid":false,"domain":false,"ticks":false,"labelPadding":0,"labelFont":"DejaVu Sans","labelFontSize":15,"labelColor":"#c4c8ce","labelOverlap":false,"labelFlush":false,"labelBaseline":"top","zindex":1}},
"y":{"field":"low","type":"quantitative","scale":{"domain":[345,948],"range":[1041,476]},"axis":{"orient":"right","values":[345,500,800,948],"title":null,"grid":false,"domain":false,"ticks":false,"labelAlign":"left","labelPadding":-87,"labelFlush":true,"labelFlushOffset":-4,"labelOffset":1,"labelFont":"DejaVu Sans","labelFontSize":15,"labelColor":"#c4c8ce","labelOverlap":false,"zindex":1}},
"y2":{"field":"high"},
"color":{"field":"side","type":"nominal","legend":null,"scale":{"domain":["up","down"],"range":["#bd5638","#2f63c4"]}}}},
{"data":{"name":"candles"},"mark":{"type":"bar","size":7},"encoding":{
"x":{"field":"date","type":"temporal","axis":null,"scale":{"type":"utc","domain":["2023-11-01","2024-01-01"],"range":[69,567],"padding":0}},
"y":{"field":"open","type":"quantitative","axis":null,"stack":null,"scale":{"domain":[345,948],"range":[1041,476]}},
"y2":{"field":"close"},
"color":{"field":"side","type":"nominal","legend":null,"scale":{"domain":["up","down"],"range":["#bd5638","#2f63c4"]}}}},

{"data":{"name":"levels"},"transform":[{"filter":"datum.kind !== 'now'"}],"mark":{"type":"rule","strokeWidth":2.5},"encoding":{
"x":{"datum":0,"axis":null,"scale":{"domain":[0,1],"range":[2,612]}},"x2":{"datum":1},
"y":{"field":"level","type":"quantitative","axis":null,"scale":{"domain":[345,948],"range":[1041,476]}},
"color":{"field":"kind","type":"nominal","legend":null,"scale":{"domain":["avg","buy"],"range":["#3f8f6f","#a83a2b"]}}}},

{"data":{"name":"priceMa"},"mark":{"type":"line","strokeWidth":1.7,"interpolate":"monotone"},"encoding":{
"x":{"field":"date","type":"temporal","axis":null,"scale":{"type":"utc","domain":["2023-11-01","2024-01-01"],"range":[69,567]}},
"y":{"field":"value","type":"quantitative","axis":null,"scale":{"domain":[345,948],"range":[1041,476]}},
"color":{"field":"ma","type":"nominal","sort":null,"scale":{"domain":["7","30","99","120","200"],"range":["#e5281b","#e97f2a","#f5ef3a","#4aa82e","#1515e6"]},"legend":{"orient":"none","legendX":5,"legendY":480,"direction":"horizontal","columns":5,"title":"단순 MA","titleOrient":"left","titleBaseline":"bottom","titleFont":"DejaVu Sans, Noto Sans CJK KR","titleFontWeight":"normal","titleFontSize":15,"titleColor":"#c8ccd2","titlePadding":3,"labelFont":"DejaVu Sans","labelFontSize":14,"labelColor":"#c8ccd2","labelOffset":4,"columnPadding":-7,"symbolType":"M0,-3.5 L0,3.5","symbolSize":16,"symbolStrokeWidth":8,"symbolOpacity":1}}}},

{"data":{"name":"levels"},"transform":[{"filter":"datum.kind !== 'now'"}],"mark":{"type":"rect","height":23},"encoding":{
"x":{"datum":"tag","type":"nominal","axis":null,"scale":{"type":"band","domain":["tag"],"range":[616,703],"padding":0}},
"y":{"field":"level","type":"quantitative","axis":null,"scale":{"domain":[345,948],"range":[1041,476]}},
"color":{"field":"kind","type":"nominal","legend":null,"scale":{"domain":["avg","buy"],"range":["#3f8f6f","#a83a2b"]}}}},
{"data":{"name":"levels"},"transform":[{"filter":"datum.kind === 'now'"}],"mark":{"type":"rect","height":23,"color":"#2f63c4"},"encoding":{
"x":{"datum":"tag","type":"nominal","axis":null,"scale":{"type":"band","domain":["tag"],"range":[616,703],"padding":0}},
"y":{"field":"level","type":"quantitative","axis":null,"scale":{"domain":[345,948],"range":[1041,476]}}}},
{"data":{"name":"levels"},"mark":{"type":"text","font":"DejaVu Sans","fontSize":15,"align":"left","dy":1,"color":"#e4e6ea"},"encoding":{
"text":{"field":"label"},
"x":{"datum":"tag","type":"nominal","axis":null,"scale":{"type":"point","domain":["tag"],"range":[618,618]}},
"y":{"field":"level","type":"quantitative","axis":null,"scale":{"domain":[345,948],"range":[1041,476]}}}},
{"data":{"values":[{"level":748,"t":"매수평균"}]},"mark":{"type":"rect","height":23,"color":"#3f8f6f"},"encoding":{
"x":{"field":"t","type":"nominal","axis":null,"scale":{"type":"band","domain":["매수평균"],"range":[2,57],"padding":0}},
"y":{"field":"level","type":"quantitative","axis":null,"scale":{"domain":[345,948],"range":[1041,476]}}}},
{"data":{"values":[{"level":748,"t":"매수평균"}]},"mark":{"type":"text","font":"Noto Sans CJK KR","fontSize":12,"color":"#f0f0f0"},"encoding":{
"text":{"field":"t"},
"x":{"field":"t","type":"nominal","axis":null,"scale":{"type":"band","domain":["매수평균"],"range":[2,57],"padding":0}},
"y":{"field":"level","type":"quantitative","axis":null,"scale":{"domain":[345,948],"range":[1041,476]}}}},
{"data":{"values":[{"level":645,"t":"매수"},{"level":613,"t":"매수"},{"level":583,"t":"매수"},{"level":551,"t":"매수"}]},"mark":{"type":"rect","height":23,"color":"#a83a2b"},"encoding":{
"x":{"field":"t","type":"nominal","axis":null,"scale":{"type":"band","domain":["매수"],"range":[2,29],"padding":0}},
"y":{"field":"level","type":"quantitative","axis":null,"scale":{"domain":[345,948],"range":[1041,476]}}}},
{"data":{"values":[{"level":645,"t":"매수"},{"level":613,"t":"매수"},{"level":583,"t":"매수"},{"level":551,"t":"매수"}]},"mark":{"type":"text","font":"Noto Sans CJK KR","fontSize":12,"color":"#f0f0f0"},"encoding":{
"text":{"field":"t"},
"x":{"field":"t","type":"nominal","axis":null,"scale":{"type":"band","domain":["매수"],"range":[2,29],"padding":0}},
"y":{"field":"level","type":"quantitative","axis":null,"scale":{"domain":[345,948],"range":[1041,476]}}}},

{"data":{"name":"candles"},"mark":{"type":"bar","size":7},"encoding":{
"x":{"field":"date","type":"temporal","axis":null,"scale":{"type":"utc","domain":["2023-11-01","2024-01-01"],"range":[69,567],"padding":0}},
"y":{"field":"volume","type":"quantitative","stack":null,"scale":{"domain":[0,620000],"range":[1468,1066]},"axis":{"orient":"right","values":[154241.114,308482.228,462723.342],"format":",.3f","title":null,"grid":false,"domain":false,"ticks":false,"labelAlign":"left","labelPadding":-87,"labelFont":"DejaVu Sans","labelFontSize":13.5,"labelColor":"#c4c8ce","labelOverlap":false,"zindex":1}},
"color":{"field":"side","type":"nominal","legend":null,"scale":{"domain":["up","down"],"range":["#bd5638","#2f63c4"]}}}},
{"data":{"name":"volumeMa"},"mark":{"type":"line","strokeWidth":1.7,"interpolate":"monotone"},"encoding":{
"x":{"field":"date","type":"temporal","axis":null,"scale":{"type":"utc","domain":["2023-11-01","2024-01-01"],"range":[69,567]}},
"y":{"field":"value","type":"quantitative","axis":null,"scale":{"domain":[0,620000],"range":[1468,1066]}},
"color":{"field":"ma","type":"nominal","sort":null,"scale":{"domain":["5","10","20"],"range":["#d42bb0","#1c34b8","#e69a23"]},"legend":{"orient":"none","legendX":5,"legendY":1071,"direction":"horizontal","columns":3,"title":"거래량 단순 MA","titleOrient":"left","titleBaseline":"bottom","titleFont":"DejaVu Sans, Noto Sans CJK KR","titleFontWeight":"normal","titleFontSize":15,"titleColor":"#c8ccd2","titlePadding":3,"labelFont":"DejaVu Sans","labelFontSize":14,"labelColor":"#c8ccd2","labelOffset":4,"columnPadding":-7,"symbolType":"M0,-3.5 L0,3.5","symbolSize":16,"symbolStrokeWidth":8,"symbolOpacity":1}}}},
{"data":{"values":[{"volume":26259.551,"label":"26,259.551"}]},"mark":{"type":"rect","height":23,"color":"#2f63c4"},"encoding":{
"x":{"datum":"tag","type":"nominal","axis":null,"scale":{"type":"band","domain":["tag"],"range":[616,703],"padding":0}},
"y":{"field":"volume","type":"quantitative","axis":null,"scale":{"domain":[0,620000],"range":[1468,1066]}}}},
{"data":{"values":[{"volume":26259.551,"label":"26,259.551"}]},"mark":{"type":"text","font":"DejaVu Sans","fontSize":13.5,"align":"left","color":"#f0f2f5"},"encoding":{
"text":{"field":"label"},
"x":{"datum":"tag","type":"nominal","axis":null,"scale":{"type":"point","domain":["tag"],"range":[618,618]}},
"y":{"field":"volume","type":"quantitative","axis":null,"scale":{"domain":[0,620000],"range":[1468,1066]}}}},

{"data":{"values":[{"part":"home"}]},"mark":{"type":"rect","color":"#ffffff","cornerRadius":4.5},"encoding":{"x":{"field":"part","type":"nominal","axis":null,"scale":{"type":"band","domain":["home"],"range":[227,478],"padding":0}},"y":{"field":"part","type":"nominal","axis":null,"scale":{"type":"band","domain":["home"],"range":[1503,1512],"padding":0}}}}
]
}
